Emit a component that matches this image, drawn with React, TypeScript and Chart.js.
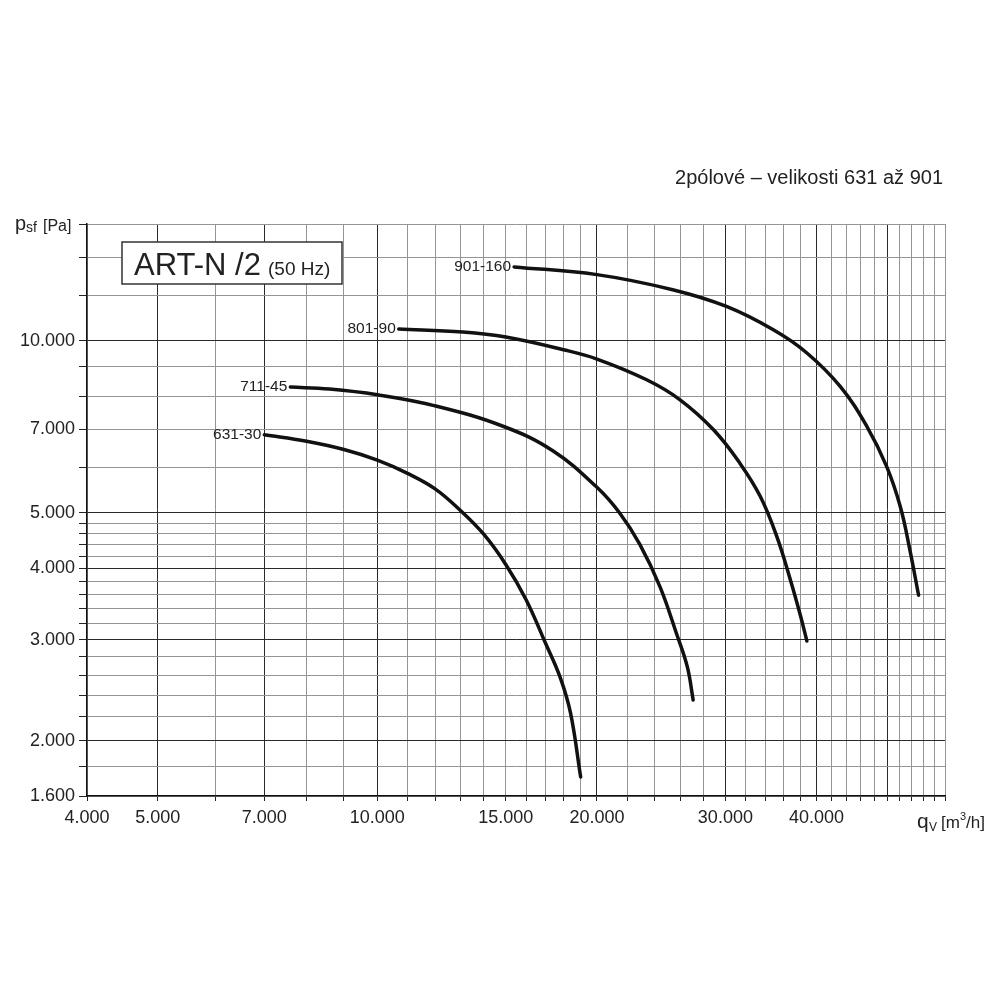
import React, { useEffect, useRef } from 'react';
import { Chart, registerables } from 'chart.js';

Chart.register(...registerables);

// ---- Data ----
const SERIES_NAMES = ['631-30', '711-45', '801-90', '901-160'];

const Q_631_30 = [7000, 8000, 9000, 10000, 11000, 12000, 13000, 14000, 15000, 16000, 17000, 17800, 18400, 19000];
const P_631_30 = [6850, 6673, 6454, 6184, 5864, 5510, 5050, 4585, 4063, 3523, 2962, 2584, 2235, 1727];

const Q_711_45 = [7600, 8600, 10000, 12000, 14900, 17400, 20000, 21500, 22900, 24400, 25700, 26600, 27100];
const P_711_45 = [8299, 8232, 8045, 7695, 7081, 6423, 5543, 4994, 4405, 3717, 3081, 2693, 2354];

const Q_801_90 = [10700, 13100, 15000, 18000, 20000, 23400, 26000, 28900, 31400, 33500, 35300, 36800, 38000, 38800];
const P_801_90 = [10483, 10357, 10150, 9644, 9290, 8546, 7885, 6988, 6110, 5341, 4541, 3833, 3316, 2986];

const Q_901_160 = [15400, 20000, 25400, 30100, 34900, 38800, 43100, 46900, 49900, 52100, 53700, 55200];
const P_901_160 = [13460, 13050, 12280, 11480, 10450, 9520, 8320, 7080, 6030, 5130, 4310, 3590];

// ---- Axes ----
const X_MIN = 4000;
const X_MAX = 60000;
const Y_MIN = 1600;
const Y_MAX = 16000;

const X_GRID = [4000, 5000, 6000, 7000, 8000, 9000, 10000, 11000, 12000, 13000, 14000, 15000, 16000, 17000, 18000, 19000, 20000, 22000, 24000, 26000, 28000, 30000, 32000, 34000, 36000, 38000, 40000, 42000, 44000, 46000, 48000, 50000, 52000, 54000, 56000, 58000, 60000];
const X_LABELS = [4000, 5000, 7000, 10000, 15000, 20000, 30000, 40000];
const X_DARK = [5000, 7000, 10000, 20000, 30000, 40000, 50000];

const Y_GRID = [1600, 1800, 2000, 2200, 2400, 2600, 2800, 3000, 3200, 3400, 3600, 3800, 4000, 4200, 4400, 4600, 4800, 5000, 6000, 7000, 8000, 9000, 10000, 12000, 14000, 16000];
const Y_LABELS = [1600, 2000, 3000, 4000, 5000, 7000, 10000];
const Y_DARK = [2000, 3000, 4000, 5000, 10000];

const TITLE = '2pólové – velikosti 631 až 901';
const BOX_MAIN = 'ART-N /2';
const BOX_SUB = '(50 Hz)';

const FONT = '"Liberation Sans", Arial, Helvetica, sans-serif';

const fmt = (v: number) => String(v).replace(/\B(?=(\d{3})+(?!\d))/g, '.');

const textPlugin = {
  id: 'textPlugin',
  afterDraw(chart: any) {
    const ctx = chart.ctx as CanvasRenderingContext2D;
    ctx.save();
    // curve labels
    chart.data.datasets.forEach((ds: any, i: number) => {
      const meta = chart.getDatasetMeta(i);
      const p = meta.data[0];
      if (!p) return;
      ctx.font = `15.5px ${FONT}`;
      ctx.fillStyle = '#222';
      ctx.textAlign = 'right';
      ctx.textBaseline = 'middle';
      ctx.fillText(ds.label, p.x - 3, p.y);
    });

    // title at top right
    ctx.font = `20px ${FONT}`;
    ctx.fillStyle = '#222';
    ctx.textAlign = 'right';
    ctx.textBaseline = 'alphabetic';
    ctx.fillText(TITLE, 943, 184);

    // box
    ctx.fillStyle = '#fff';
    ctx.fillRect(122, 242, 220, 42);
    ctx.strokeStyle = '#333';
    ctx.lineWidth = 1.5;
    ctx.strokeRect(122, 242, 220, 42);
    ctx.fillStyle = '#222';
    ctx.textAlign = 'left';
    ctx.font = `31px ${FONT}`;
    ctx.fillText(BOX_MAIN, 134, 275);
    ctx.font = `19px ${FONT}`;
    ctx.fillText(BOX_SUB, 268, 275);

    // y axis title: p_sf [Pa]
    ctx.font = `20px ${FONT}`;
    ctx.fillText('p', 15, 230);
    ctx.font = `14px ${FONT}`;
    ctx.fillText('sf', 26, 232);
    ctx.font = `16px ${FONT}`;
    ctx.fillText('[Pa]', 43, 231);

    // x axis title: q_V [m3/h]
    ctx.font = `21px ${FONT}`;
    ctx.fillText('q', 917, 828);
    ctx.font = `12px ${FONT}`;
    ctx.fillText('V', 929, 831);
    ctx.font = `17px ${FONT}`;
    ctx.fillText('[m', 941, 828);
    const w1 = ctx.measureText('[m').width;
    ctx.font = `11px ${FONT}`;
    ctx.fillText('3', 941 + w1, 820);
    const w2 = ctx.measureText('3').width;
    ctx.font = `17px ${FONT}`;
    ctx.fillText('/h]', 941 + w1 + w2, 828);
    ctx.restore();
  },
};

export default function App() {
  const ref = useRef<HTMLCanvasElement | null>(null);

  useEffect(() => {
    if (!ref.current) return;
    const mk = (q: number[], p: number[]) => q.map((x, i) => ({ x, y: p[i] }));
    const seriesQ = [Q_631_30, Q_711_45, Q_801_90, Q_901_160];
    const seriesP = [P_631_30, P_711_45, P_801_90, P_901_160];
    const chart = new Chart(ref.current, {
      type: 'line',
      data: {
        datasets: SERIES_NAMES.map((name, i) => ({
          label: name,
          data: mk(seriesQ[i], seriesP[i]),
          borderColor: '#111',
          borderWidth: 3.5,
          pointRadius: 0,
          fill: false,
          tension: 0.4,
          borderCapStyle: 'round',
          borderJoinStyle: 'round',
        })),
      },
      options: {
        animation: false,
        responsive: false,
        devicePixelRatio: 1,
        events: [],
        layout: { padding: { left: 0, right: 55, top: 224, bottom: 144 } },
        plugins: { legend: { display: false }, tooltip: { enabled: false }, title: { display: false } },
        scales: {
          x: {
            type: 'logarithmic',
            min: X_MIN,
            max: X_MAX,
            afterBuildTicks: (scale: any) => {
              scale.ticks = X_GRID.map((v) => ({ value: v }));
            },
            afterFit: (scale: any) => {
              scale.height = 60;
            },
            ticks: {
              autoSkip: false,
              maxRotation: 0,
              minRotation: 0,
              padding: 6,
              color: '#222',
              font: { family: FONT, size: 18 },
              callback: (v: any) => (X_LABELS.includes(Number(v)) ? fmt(Number(v)) : ''),
            },
            grid: {
              color: (c: any) => (X_DARK.includes(c.tick?.value) ? '#2a2a2a' : '#959595'),
              lineWidth: 1,
              drawTicks: true,
              tickLength: 5,
              tickColor: '#222',
            },
            border: { display: true, color: '#111', width: 1.5 },
          },
          y: {
            type: 'logarithmic',
            min: Y_MIN,
            max: Y_MAX,
            afterBuildTicks: (scale: any) => {
              scale.ticks = Y_GRID.map((v) => ({ value: v }));
            },
            afterFit: (scale: any) => {
              scale.width = 87;
            },
            ticks: {
              autoSkip: false,
              padding: 4,
              color: '#222',
              font: { family: FONT, size: 18 },
              callback: (v: any) => (Y_LABELS.includes(Number(v)) ? fmt(Number(v)) : ''),
            },
            grid: {
              color: (c: any) => (Y_DARK.includes(c.tick?.value) ? '#2a2a2a' : '#959595'),
              lineWidth: 1,
              drawTicks: true,
              tickLength: 8,
              tickColor: '#222',
            },
            border: { display: true, color: '#111', width: 1.5 },
          },
        },
      },
      plugins: [textPlugin],
    } as any);
    return () => chart.destroy();
  }, []);

  return (
    <div style={{ position: 'absolute', left: 0, top: 0, width: 1000, height: 1000, background: '#fff' }}>
      <canvas ref={ref} width={1000} height={1000} style={{ width: 1000, height: 1000, display: 'block' }} />
    </div>
  );
}
